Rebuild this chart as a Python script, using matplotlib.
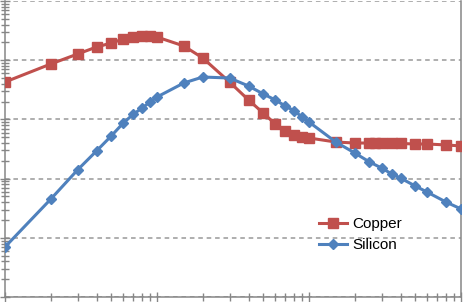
import matplotlib
matplotlib.use("Agg")
import matplotlib.pyplot as plt
import matplotlib.ticker as mticker
import numpy as np

# temperature (K) and thermal conductivity
temp_cu = [1, 2, 3, 4, 5, 6, 7, 8, 9, 10, 15, 20, 30, 40, 50, 60, 70, 80, 90, 100,
           150, 200, 250, 273, 300, 350, 400, 500, 600, 800, 1000]
k_cu = [4280, 8630, 12700, 16700, 19500, 22800, 24600, 25600, 25600, 24600, 17400,
        10900, 4280, 2130, 1280, 836, 637, 545, 505, 485,
        415, 399, 399, 399, 399, 399, 392, 384, 384, 370, 356]

temp_si = [1, 2, 3, 4, 5, 6, 7, 8, 9, 10, 15, 20, 30, 40, 50, 60, 70, 80, 90, 100,
           150, 200, 250, 300, 350, 400, 500, 600, 800, 1000]
k_si = [7.0, 45, 140, 293, 525, 869, 1230, 1560, 1970, 2390, 4120, 5200, 5000, 3670,
        2690, 2130, 1680, 1390, 1100, 904,
        415, 271, 191, 151, 120, 102, 75, 59, 40, 30.7]

red = "#C0504D"
blue = "#4F81BD"
gray = "#868686"

plt.rcParams['font.family'] = ['Liberation Sans', 'DejaVu Sans']

fig = plt.figure(figsize=(4.74, 3.02), dpi=100)
ax = fig.add_axes([5/474, 1 - 297/302, (461 - 5)/474, 296/302])

ax.plot(temp_cu, k_cu, color=red, lw=2.2, marker='s', ms=7.5, mec=red, mfc=red,
        label='Copper', zorder=3)
ax.plot(temp_si, k_si, color=blue, lw=2.2, marker='D', ms=5.5, mec=blue, mfc=blue,
        label='Silicon', zorder=4)

ax.set_xscale('log')
ax.set_yscale('log')
ax.set_xlim(1, 1000)
ax.set_ylim(1, 1e5)

ax.yaxis.set_major_locator(mticker.LogLocator(base=10, numticks=10))
ax.yaxis.set_minor_locator(mticker.LogLocator(base=10, subs=np.arange(2, 10), numticks=20))
ax.xaxis.set_minor_locator(mticker.LogLocator(base=10, subs=np.arange(2, 10), numticks=20))
ax.xaxis.set_major_formatter(mticker.NullFormatter())
ax.xaxis.set_minor_formatter(mticker.NullFormatter())
ax.yaxis.set_major_formatter(mticker.NullFormatter())
ax.yaxis.set_minor_formatter(mticker.NullFormatter())

ax.tick_params(which='both', direction='inout', color=gray, width=1)
ax.tick_params(which='major', length=7)
ax.tick_params(which='minor', length=6)

ax.grid(True, axis='y', which='major', color='#999999', ls=(0, (3, 2.5)), lw=1.1)
ax.spines['top'].set_visible(False)
for s in ['left', 'bottom', 'right']:
    ax.spines[s].set_color(gray)
    ax.spines[s].set_linewidth(1.1)

ax.legend(loc='center left', bbox_to_anchor=(319/474, 1 - 234.5/302),
          bbox_transform=fig.transFigure, frameon=False, fontsize=11,
          handlelength=1.85, handletextpad=0.35, labelspacing=0.45,
          borderpad=0, borderaxespad=0)

fig.savefig("out.png", dpi=100)
